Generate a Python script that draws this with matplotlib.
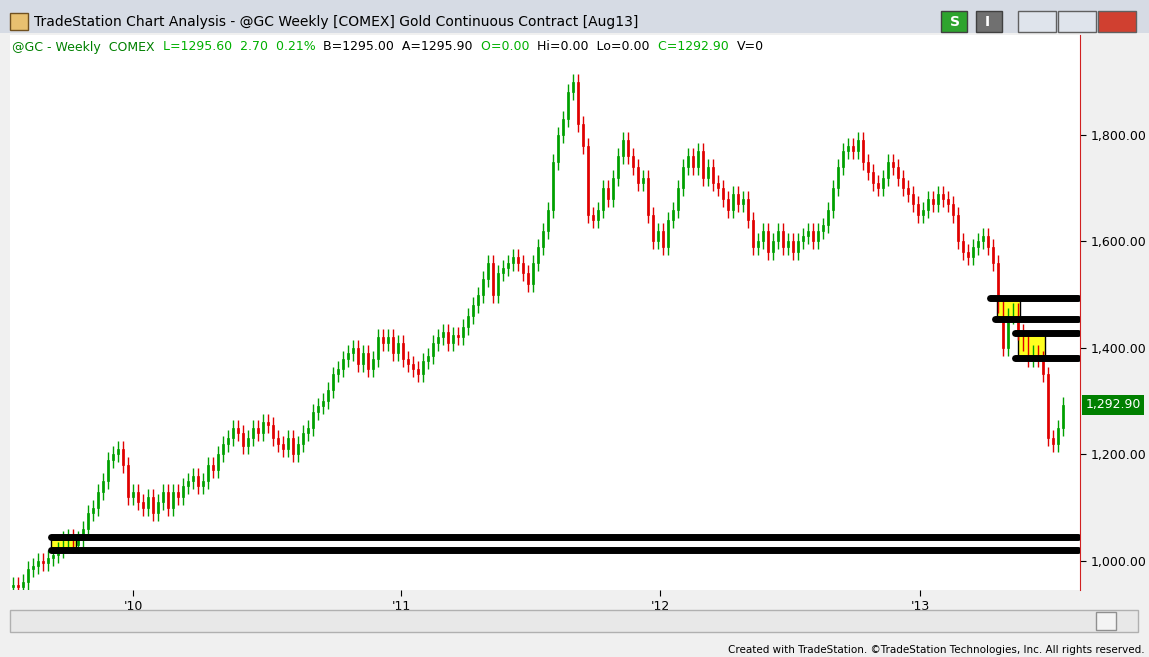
import matplotlib.pyplot as plt
from matplotlib.patches import Rectangle

# weekly closes (Jul 2009 - Jul 2013)
closes = [
    955, 950, 960, 985, 990, 1000, 995, 1005, 1010,
    1020, 1040, 1045, 1030, 1040,
    1060, 1090, 1100, 1130, 1150, 1190, 1200,
    1210, 1180, 1120, 1130,
    1110, 1100, 1120, 1090, 1110, 1130, 1100,
    1130, 1120, 1140, 1150, 1160, 1140, 1150,
    1180, 1170, 1200, 1220, 1230, 1250, 1240,
    1215, 1230, 1250, 1240, 1260, 1255,
    1230, 1220, 1210, 1230, 1200,
    1220, 1240, 1250, 1280, 1290, 1300, 1320,
    1350, 1360, 1380, 1390,
    1400, 1370, 1390, 1360,
    1380, 1420, 1410, 1420,
    1390, 1410, 1380, 1370, 1360, 1350,
    1375, 1385, 1410, 1420, 1430, 1410,
    1425, 1420, 1440, 1460, 1480, 1500,
    1530, 1560, 1500, 1540, 1550, 1560,
    1570, 1560, 1540, 1520, 1560, 1590,
    1620, 1660, 1750, 1800, 1830,
    1880, 1900, 1820, 1780,
    1650, 1640, 1660, 1700,
    1680, 1720, 1760, 1790, 1760,
    1740, 1710, 1720, 1650, 1600,
    1620, 1590, 1640, 1660,
    1700, 1740, 1760, 1740, 1770, 1720,
    1740, 1710, 1700, 1680, 1660, 1690, 1670, 1680,
    1640, 1590, 1600, 1620, 1580, 1600,
    1620, 1590, 1600, 1580, 1600, 1610,
    1620, 1600, 1620, 1630, 1660,
    1700, 1740, 1770, 1780, 1770,
    1790, 1750, 1730, 1710, 1700, 1720, 1750,
    1740, 1720, 1700, 1690, 1670, 1650,
    1660, 1680, 1670, 1690, 1680, 1670, 1650,
    1600, 1580, 1570, 1590, 1600, 1610,
    1590, 1560, 1480, 1400,
    1460, 1470, 1430, 1410, 1380,
    1390, 1380, 1350, 1230,
    1220, 1250, 1292.9,
]
opens = [950] + closes[:-1]

# support / resistance lines: (start index, price)
levels = [(7.5, 1045), (7.5, 1021), (195.4, 1494), (196.4, 1454), (200.4, 1428), (200.4, 1381)]
# yellow boxes: (x0, x1, low, high)
boxes = [(7.5, 12.5, 1021, 1045), (196.8, 201.4, 1454, 1494), (201.0, 206.4, 1381, 1428)]

year_pos = [24, 77.6, 129.4, 181.4]
year_lbl = ["'10", "'11", "'12", "'13"]
price_ticks = [1000, 1200, 1400, 1600, 1800]

W, H = 1149, 657
fig = plt.figure(figsize=(W / 100, H / 100), dpi=100)
fig.patch.set_facecolor('#f0f0f0')

# title bar
fig.patches.append(Rectangle((0, 1 - 33 / H), 1, 33 / H, transform=fig.transFigure,
                             fc='#d6dbe4', ec='none'))
fig.text(34 / W, 1 - 22 / H, 'TradeStation Chart Analysis - @GC Weekly [COMEX] Gold Continuous Contract [Aug13]',
         fontsize=10, va='center')
fig.patches.append(Rectangle((10 / W, 1 - 30 / H), 18 / W, 17 / H, transform=fig.transFigure,
                             fc='#e8c070', ec='#705020'))
for x0, txt, fc in [(941, 'S', '#2ea42e'), (976, 'I', '#707070')]:
    fig.patches.append(Rectangle((x0 / W, 1 - 32 / H), 26 / W, 21 / H, transform=fig.transFigure,
                                 fc=fc, ec='#404040'))
    fig.text((x0 + 9) / W, 1 - 22 / H, txt, color='white', fontsize=10, weight='bold', va='center')
for x0, fc in [(1018, '#dfe4ec'), (1058, '#dfe4ec'), (1098, '#d04030')]:
    fig.patches.append(Rectangle((x0 / W, 1 - 32 / H), 38 / W, 21 / H, transform=fig.transFigure,
                                 fc=fc, ec='#606060'))

ax = fig.add_axes([10 / W, 1 - 590 / H, 1070 / W, 555 / H])
ax.set_facecolor('white')

for i, (o, c) in enumerate(zip(opens, closes)):
    col = '#00a000' if c >= o else '#e00000'
    lo, hi = min(o, c), max(o, c)
    ax.vlines(i, lo - 15, hi + 15, color=col, lw=1)
    ax.add_patch(Rectangle((i - 0.22, lo), 0.44, max(hi - lo, 1.5), fc=col, ec=col, lw=0.5))

for x0, x1, lo, hi in boxes:
    ax.add_patch(Rectangle((x0, lo), x1 - x0, hi - lo, fc='#ffff20', ec='black', lw=1, zorder=1))
for s, p in levels:
    ax.plot([s, 213], [p, p], color='black', lw=5, solid_capstyle='round', zorder=3)

ax.set_xlim(-0.6, 213.4)
ax.set_ylim(945, 1988)
ax.set_xticks(year_pos)
ax.set_xticklabels(year_lbl, fontsize=9)
ax.yaxis.tick_right()
ax.set_yticks(price_ticks)
ax.set_yticklabels([f'{p:,.2f}' for p in price_ticks], fontsize=9)
for s in ['top', 'left', 'bottom']:
    ax.spines[s].set_visible(False)
ax.spines['right'].set_color('#d02020')
ax.tick_params(length=4)

# last price tag
ax.text(1.005, (closes[-1] - 945) / (1988 - 945), f'{closes[-1]:,.2f}', transform=ax.transAxes,
        color='white', fontsize=9, va='center', ha='left',
        bbox=dict(boxstyle='square,pad=0.25', fc='#008000', ec='none'))

# header line
parts = [('@GC - Weekly  COMEX  ', '#008000'), ('L=1295.60  2.70  0.21%  ', '#00b000'),
         ('B=1295.00  A=1295.90  ', 'black'), ('O=0.00  ', '#00b000'), ('Hi=0.00  Lo=0.00  ', 'black'),
         ('C=1292.90  ', '#00b000'), ('V=0', 'black')]
x = 12 / W
for txt, col in parts:
    t = fig.text(x, 1 - 47 / H, txt, color=col, fontsize=9, va='center')
    fig.canvas.draw()
    bb = t.get_window_extent()
    x += bb.width / W

# scrollbar and footer
fig.patches.append(Rectangle((10 / W, 1 - 632 / H), 1128 / W, 22 / H, transform=fig.transFigure,
                             fc='#e8e8e8', ec='#b0b0b0'))
fig.patches.append(Rectangle((1096 / W, 1 - 630 / H), 20 / W, 18 / H, transform=fig.transFigure,
                             fc='#f4f4f4', ec='#909090'))
fig.text(1145 / W, 1 - 650 / H, 'Created with TradeStation. ©TradeStation Technologies, Inc. All rights reserved.',
         fontsize=7.5, ha='right', va='center')

fig.savefig('out.png', dpi=100, facecolor=fig.get_facecolor())
